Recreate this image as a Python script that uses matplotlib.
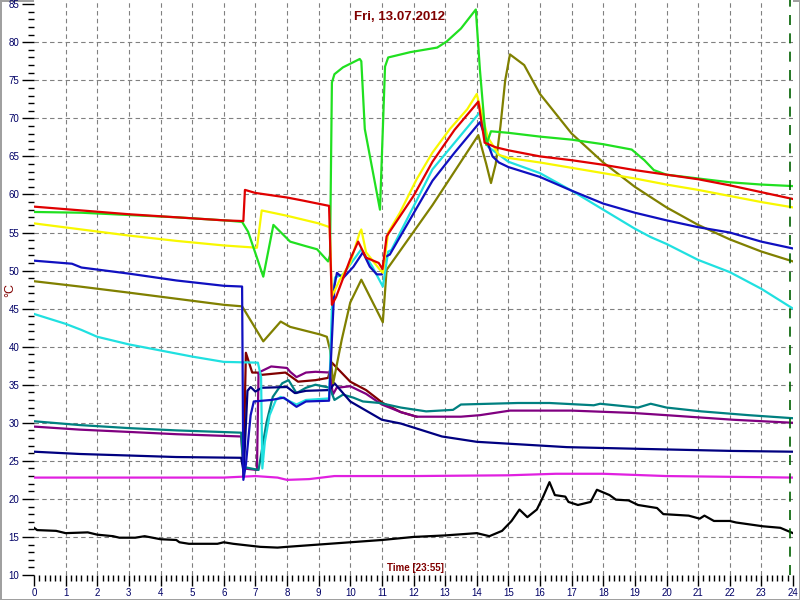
import matplotlib
matplotlib.use("Agg")
import matplotlib.pyplot as plt
from matplotlib.ticker import MultipleLocator

plt.rcParams['font.family'] = ['Liberation Sans', 'DejaVu Sans']

#%% Data (hour of day, deg C)

red_h = [0, 1.5, 3, 4.5, 6.0, 6.62, 6.67, 7.0, 8.0, 8.5, 9.33, 9.42, 9.55, 10.0, 10.25, 10.5, 10.9, 11.02, 11.15,
         12.0, 12.6, 13.3, 14.05, 14.25, 14.6, 15, 16, 17, 18, 19, 20, 21, 22, 23, 24]
red_v = [58.4, 57.9, 57.4, 57.0, 56.6, 56.5, 60.6, 60.2, 59.6, 59.2, 58.5, 45.5, 46.5, 51.5, 53.8, 51.7, 51.0, 50.2, 54.5,
         59.8, 64.3, 68.5, 72.2, 66.8, 66.2, 65.8, 65.0, 64.5, 63.9, 63.2, 62.6, 62.0, 61.2, 60.3, 59.4]

green_h = [0, 1.5, 3, 4.5, 6.0, 6.58, 6.77, 7.04, 7.25, 7.57, 8.1, 8.6, 8.95, 9.3, 9.36, 9.42, 9.5, 9.77, 10.3, 10.35,
           10.46, 10.94, 11.1, 11.2, 11.9, 12.75, 13.05, 13.5, 13.97, 14.1, 14.3, 14.45, 15, 16, 17, 18, 18.9, 19.3,
           19.6, 20, 21, 22, 23, 24]
green_v = [57.7, 57.6, 57.3, 57.0, 56.6, 56.4, 55.1, 51.8, 49.2, 56.0, 53.8, 53.2, 52.8, 51.2, 52.0, 74.7, 75.8, 76.7,
           77.8, 77.5, 68.6, 58.0, 76.8, 78.0, 78.7, 79.3, 80.1, 81.8, 84.3, 76.4, 66.5, 68.3, 68.1, 67.6, 67.2, 66.6,
           65.9, 64.5, 63.2, 62.6, 62.1, 61.6, 61.3, 61.1]

yellow_h = [0, 1.5, 3, 4.5, 6.0, 7.05, 7.2, 8.0, 9.0, 9.35, 9.42, 9.67, 10.0, 10.3, 10.35, 10.5, 10.94, 11.03, 11.2,
            11.57, 12.1, 12.6, 13.15, 13.7, 14.0, 14.35, 14.7, 15, 16, 17, 18, 19, 20, 21, 22, 23, 24]
yellow_v = [56.2, 55.4, 54.6, 53.9, 53.3, 53.0, 57.9, 57.2, 56.2, 55.7, 46.6, 48.8, 51.0, 55.0, 55.4, 52.4, 50.1, 49.7,
            55.0, 57.6, 62.0, 65.5, 68.6, 71.2, 73.2, 67.5, 65.2, 64.8, 64.2, 63.5, 62.8, 62.1, 61.3, 60.6, 59.8, 59.0,
            58.3]

blue_h = [0, 1.2, 1.5, 3, 4.5, 6.0, 6.58, 6.62, 6.7, 6.85, 6.95, 7.5, 7.9, 8.3, 8.6, 9.33, 9.42, 9.5, 9.58, 9.77,
          10.1, 10.4, 10.62, 10.84, 11.0, 11.1, 11.25, 12.0, 12.6, 13.3, 14.1, 14.5, 14.7, 15, 16, 17, 18, 19, 20, 21,
          22, 23, 24]
blue_v = [51.3, 50.9, 50.4, 49.6, 48.7, 48.0, 47.9, 22.5, 24.5, 31.0, 32.8, 33.0, 33.3, 32.1, 32.8, 32.9, 41.0, 48.0,
          49.7, 49.0, 50.5, 52.4, 50.5, 49.5, 49.5, 51.8, 52.1, 57.5, 61.8, 65.5, 69.5, 65.0, 64.2, 63.6, 62.3, 60.5,
          58.8, 57.6, 56.6, 55.7, 55.0, 53.8, 52.9]

cyan_h = [0, 1, 1.5, 2, 3, 4, 5, 6, 7.08, 7.18, 7.22, 7.3, 7.45, 7.65, 7.8, 8.3, 8.6, 9.33, 9.42, 9.52, 9.77, 10.35,
          10.7, 11.03, 11.2, 11.3, 12.6, 14.1, 14.35, 15, 16, 17, 18, 19, 19.5, 20, 21, 22, 23, 24]
cyan_v = [44.3, 43.0, 42.2, 41.3, 40.3, 39.5, 38.7, 38.0, 37.9, 36.0, 24.0, 27.5, 31.0, 33.0, 33.4, 32.4, 33.0, 33.2,
          45.0, 49.1, 49.5, 52.8, 50.5, 47.9, 52.5, 52.7, 63.3, 70.8, 66.3, 64.3, 62.8, 60.5, 58.0, 55.5, 54.4, 53.5,
          51.4, 49.8, 47.6, 45.0]

olive_h = [0, 1.45, 3, 4.5, 6.0, 6.58, 7.25, 7.8, 8.1, 9.05, 9.26, 9.36, 9.46, 9.73, 10.0, 10.35, 11.03, 11.15, 12.6,
           14.05, 14.3, 14.45, 14.6, 14.75, 14.9, 15.05, 15.5, 16, 17, 18, 19, 20, 21, 22, 23, 24]
olive_v = [48.6, 47.9, 47.1, 46.3, 45.5, 45.3, 40.7, 43.3, 42.6, 41.6, 41.3, 39.6, 35.2, 40.9, 45.8, 48.8, 43.2, 50.1,
           58.6, 67.8, 64.0, 61.5, 64.0, 69.0, 75.0, 78.4, 77.0, 73.2, 68.0, 64.2, 61.0, 58.3, 56.0, 54.1, 52.5, 51.2]

teal_h = [0, 1.45, 3, 4.5, 6.55, 6.62, 7.1, 7.35, 7.55, 7.85, 8.05, 8.3, 8.6, 8.9, 9.35, 9.5, 9.77, 10.1, 10.4, 10.94,
          11.6, 12.4, 13.25, 13.5, 15.3, 16.3, 17.7, 17.9, 19.1, 19.5, 20, 21.1, 22.6, 24]
teal_v = [30.2, 29.7, 29.3, 29.0, 28.7, 24.2, 23.8, 30.0, 33.4, 35.2, 35.6, 33.9, 34.6, 35.0, 34.6, 33.0, 33.7, 33.3,
          32.8, 32.6, 32.0, 31.5, 31.7, 32.4, 32.6, 32.6, 32.3, 32.5, 32.0, 32.5, 32.0, 31.5, 31.0, 30.6]

purple_h = [0, 1.45, 3, 4.5, 6.55, 6.62, 7.05, 7.1, 7.5, 8.0, 8.1, 8.3, 8.6, 8.9, 9.36, 9.45, 9.57, 10.0, 10.5, 11.0,
            11.6, 12.1, 13.5, 14.1, 15.05, 17, 18.9, 20, 22.1, 24]
purple_v = [29.5, 29.1, 28.8, 28.5, 28.2, 24.0, 23.8, 36.6, 37.4, 37.2, 36.7, 36.0, 36.6, 36.7, 36.6, 33.7, 34.6, 34.8,
            33.8, 32.4, 31.4, 30.8, 30.8, 31.0, 31.6, 31.6, 31.3, 31.0, 30.4, 30.0]

navy_h = [0, 1.45, 3, 4.5, 6.55, 6.63, 6.75, 6.85, 7.0, 7.2, 8.0, 8.25, 8.6, 9.35, 9.5, 10.0, 11.0, 11.6, 12.9, 14.0,
          16.85, 18.9, 22.1, 24]
navy_v = [26.2, 25.9, 25.7, 25.5, 25.4, 23.5, 34.2, 34.7, 34.1, 34.6, 34.7, 33.9, 34.2, 34.3, 35.2, 32.8, 30.4, 29.9,
          28.2, 27.5, 26.8, 26.6, 26.3, 26.2]

maroon_h = [6.62, 6.7, 6.9, 7.05, 7.2, 7.95, 8.15, 8.35, 8.9, 9.3, 9.42, 10.0, 10.5, 11.03, 11.6, 12.1]
maroon_v = [23.0, 39.2, 36.6, 36.6, 36.3, 36.6, 36.0, 35.4, 35.6, 35.9, 37.9, 35.4, 34.3, 32.6, 31.4, 30.8]

magenta_h = [0, 6, 7, 7.7, 8, 8.7, 9.5, 12, 15, 16.5, 18, 20, 22, 24]
magenta_v = [22.8, 22.8, 23.0, 22.8, 22.5, 22.6, 23.0, 23.0, 23.1, 23.3, 23.3, 23.0, 22.9, 22.8]

black_h = [0, 0.1, 0.7, 1.0, 1.7, 2.0, 2.5, 2.7, 3.2, 3.5, 4.0, 4.5, 4.6, 4.9, 5.8, 6.0, 6.3, 7.15, 7.7, 8.0, 9.0,
           10.0, 11.0, 12.0, 13.0, 14.0, 14.4, 14.8, 15.1, 15.35, 15.6, 15.9, 16.1, 16.3, 16.47, 16.8, 16.9, 17.2,
           17.6, 17.8, 18.2, 18.4, 18.8, 19.1, 19.7, 19.9, 20.7, 21.05, 21.2, 21.5, 22.0, 22.2, 23.05, 23.6, 24]
black_v = [16.2, 15.9, 15.8, 15.5, 15.6, 15.3, 15.1, 14.9, 14.9, 15.1, 14.7, 14.6, 14.3, 14.1, 14.1, 14.3, 14.1, 13.7,
           13.6, 13.7, 14.0, 14.3, 14.6, 15.0, 15.2, 15.5, 15.1, 15.8, 17.1, 18.6, 17.6, 18.6, 20.3, 22.2, 20.5, 20.3,
           19.6, 19.2, 19.6, 21.2, 20.5, 19.9, 19.8, 19.2, 18.8, 18.0, 17.8, 17.4, 17.8, 17.1, 17.1, 16.9, 16.4, 16.2,
           15.5]

now_h = 23 + 55 / 60

#%% Plot

fig = plt.figure(figsize=(8, 6), dpi=100)
fig.patch.set_facecolor('white')
fig.patch.set_edgecolor('#a0a0a0')
fig.patch.set_linewidth(2)

ax = fig.add_axes([34 / 800, 25 / 600, 759 / 800, 575 / 600])
ax.set_xlim(0, 24)
ax.set_ylim(10, 85.55)
for s in ax.spines.values():
    s.set_visible(False)

lw = 1.6
ax.plot(black_h, black_v, color='black', lw=lw)
ax.plot(magenta_h, magenta_v, color='#e020e0', lw=lw)
ax.plot(maroon_h, maroon_v, color='#800000', lw=lw)
ax.plot(purple_h, purple_v, color='#800080', lw=lw)
ax.plot(teal_h, teal_v, color='#008080', lw=lw)
ax.plot(navy_h, navy_v, color='#000080', lw=lw)
ax.plot(olive_h, olive_v, color='#808000', lw=lw)
ax.plot(cyan_h, cyan_v, color='#20e0e0', lw=lw)
ax.plot(blue_h, blue_v, color='#1010c0', lw=lw)
ax.plot(yellow_h, yellow_v, color='#f8f800', lw=lw)
ax.plot(green_h, green_v, color='#20e020', lw=lw)
ax.plot(red_h, red_v, color='#e00000', lw=lw)

ax.axvline(now_h, color='#006000', lw=1.2, dashes=(6, 5))

# ticks
ax.set_xticks(range(0, 25))
ax.xaxis.set_minor_locator(MultipleLocator(1 / 6))
ax.set_yticks(range(10, 90, 5))
ax.yaxis.set_minor_locator(MultipleLocator(1))
ax.tick_params(axis='x', which='major', length=8, width=1, labelsize=7, labelcolor='#000066', pad=1.5)
ax.tick_params(axis='x', which='minor', length=4, width=1)
ax.tick_params(axis='y', which='major', length=9, width=1, labelsize=7, labelcolor='#000066', pad=1.5)
ax.tick_params(axis='y', which='minor', length=4, width=1)

ax.grid(which='major', color='#808080', lw=0.8, dashes=(4, 3))
ax.set_axisbelow(True)
xg = ax.get_xgridlines()
xg[0].set_visible(False)
xg[-1].set_visible(False)
yg = ax.get_ygridlines()
yg[0].set_visible(False)
yg[-1].set_visible(False)

fig.text(400 / 800, 1 - 17 / 600, 'Fri, 13.07.2012', color='#800000', fontsize=9.5,
         fontweight='bold', ha='center', va='center')
fig.text(415 / 800, 1 - 568 / 600, 'Time [23:55]', color='#800000', fontsize=7,
         fontweight='bold', ha='center', va='center')
fig.text(10 / 800, 1 - 290 / 600, '°C', color='#800000', fontsize=9, rotation=90,
         ha='center', va='center')

fig.savefig('out.png', dpi=100)
